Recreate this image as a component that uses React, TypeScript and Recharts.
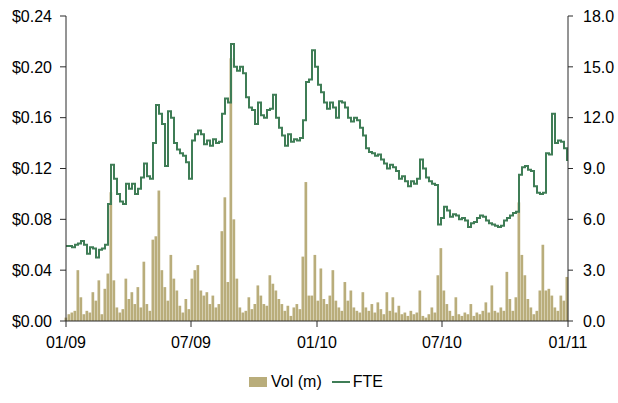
import React from 'react';
import {
  ComposedChart,
  Bar,
  Line,
  XAxis,
  YAxis,
  Legend,
} from 'recharts';

// one sample every 3 trading days, 01/09 -> 01/11
const STEP = 3;

// FTE share price ($)
const price = [
  0.059, 0.059, 0.058, 0.060, 0.061, 0.063, 0.060, 0.053, 0.058, 0.057,
  0.050, 0.056, 0.057, 0.060, 0.092, 0.123, 0.112, 0.100, 0.094, 0.092,
  0.108, 0.104, 0.108, 0.100, 0.104, 0.113, 0.124, 0.114, 0.112, 0.140,
  0.170, 0.163, 0.155, 0.122, 0.165, 0.160, 0.140, 0.135, 0.132, 0.130,
  0.125, 0.112, 0.142, 0.147, 0.150, 0.147, 0.139, 0.142, 0.138, 0.143,
  0.140, 0.141, 0.163, 0.175, 0.172, 0.218, 0.200, 0.197, 0.200, 0.195,
  0.176, 0.168, 0.166, 0.155, 0.172, 0.162, 0.160, 0.166, 0.167, 0.178,
  0.160, 0.152, 0.146, 0.138, 0.147, 0.141, 0.143, 0.142, 0.144, 0.158,
  0.188, 0.190, 0.213, 0.200, 0.186, 0.180, 0.172, 0.167, 0.172, 0.168,
  0.160, 0.173, 0.172, 0.168, 0.160, 0.157, 0.160, 0.158, 0.152, 0.146,
  0.136, 0.133, 0.132, 0.130, 0.131, 0.127, 0.124, 0.120, 0.123, 0.121,
  0.118, 0.112, 0.114, 0.110, 0.106, 0.110, 0.108, 0.112, 0.127, 0.120,
  0.113, 0.110, 0.108, 0.107, 0.076, 0.081, 0.090, 0.087, 0.082, 0.084,
  0.083, 0.080, 0.081, 0.079, 0.074, 0.077, 0.078, 0.081, 0.083, 0.082,
  0.079, 0.077, 0.076, 0.075, 0.074, 0.075, 0.079, 0.081, 0.083, 0.085,
  0.086, 0.115, 0.121, 0.122, 0.119, 0.118, 0.106, 0.101, 0.100, 0.101,
  0.132, 0.131, 0.163, 0.140, 0.142, 0.141, 0.136, 0.126,
];

// volume (millions)
const volume = [
  0.2, 0.4, 0.5, 0.6, 3.0, 1.4, 0.4, 0.6, 0.5, 1.7,
  1.2, 2.4, 0.4, 1.9, 2.8, 7.6, 2.4, 0.8, 0.5, 0.7,
  2.5, 1.3, 1.7, 1.0, 2.0, 0.8, 3.5, 1.0, 0.6, 4.8,
  5.0, 7.7, 3.0, 2.0, 1.2, 3.9, 2.5, 1.8, 0.9, 0.5,
  1.3, 0.7, 2.5, 3.0, 3.3, 1.8, 1.5, 1.7, 1.0, 1.5,
  0.8, 1.0, 5.3, 7.3, 2.3, 15.5, 6.0, 2.5, 0.8, 0.5,
  0.6, 1.4, 0.7, 1.0, 2.1, 1.5, 1.0, 0.9, 2.7, 2.2,
  1.8, 1.3, 1.0, 0.6, 0.9, 0.3, 0.8, 1.0, 0.7, 3.8,
  8.2, 1.5, 1.5, 3.9, 1.2, 3.1, 1.3, 1.0, 1.5, 3.0,
  1.2, 0.8, 0.6, 2.3, 1.2, 1.8, 0.8, 0.6, 0.5, 1.7,
  0.8, 0.6, 1.0, 0.5, 1.1, 0.7, 0.4, 1.7, 0.6, 1.4,
  0.5, 0.9, 0.4, 0.5, 0.3, 0.6, 0.4, 0.5, 1.8, 0.3,
  0.2, 0.4, 0.8, 0.5, 2.7, 4.3, 1.8, 1.0, 0.6, 0.3,
  1.4, 0.4, 0.3, 0.5, 0.4, 1.0, 0.3, 0.5, 0.4, 0.6,
  1.1, 0.5, 2.1, 0.6, 0.5, 0.8, 0.6, 2.9, 1.3, 0.6,
  1.4, 7.0, 3.9, 2.7, 1.3, 0.8, 0.4, 0.6, 1.8, 4.5,
  1.8, 1.9, 1.5, 0.8, 0.6, 1.5, 1.2, 2.6,
];

// x tick positions (trading day) and labels
const xTicks = [0, 125, 251, 376, 502];
const xLabels = ['01/09', '07/09', '01/10', '07/10', '01/11'];

const priceTicks = [0, 0.04, 0.08, 0.12, 0.16, 0.2, 0.24];
const volTicks = [0, 3, 6, 9, 12, 15, 18];

const data = price.map((p, i) => ({ day: i * STEP, price: p, vol: volume[i] }));

const GREEN = '#3f7d56';
const TAN = '#b9ad7b';
const AXIS = '#2b2b2b';
const FONT = 'Liberation Sans, Arial, sans-serif';
const tickStyle = { fill: '#000', fontSize: 16, fontFamily: FONT };

const renderLegend = () => (
  <div
    style={{
      display: 'flex',
      justifyContent: 'center',
      alignItems: 'center',
      fontFamily: FONT,
      fontSize: 16,
      color: '#000',
      paddingLeft: 14,
    }}
  >
    <span style={{ display: 'inline-block', width: 18, height: 10, background: TAN, marginRight: 4 }} />
    <span style={{ marginRight: 10 }}>Vol (m)</span>
    <span style={{ display: 'inline-block', width: 18, height: 2, background: GREEN, marginRight: 3 }} />
    <span>FTE</span>
  </div>
);

export default function App() {
  return (
    <div style={{ position: 'absolute', left: 0, top: 0 }}>
      <ComposedChart
        width={618}
        height={403}
        data={data}
        margin={{ top: 16, right: 0, bottom: 52, left: 0 }}
      >
        <XAxis
          dataKey="day"
          type="number"
          domain={[0, 502]}
          ticks={xTicks}
          tickFormatter={(v: number) => xLabels[xTicks.indexOf(v)] ?? ''}
          tick={tickStyle}
          tickSize={6}
          tickMargin={10}
          height={30}
          axisLine={{ stroke: AXIS }}
          tickLine={{ stroke: AXIS }}
        />
        <YAxis
          yAxisId="price"
          domain={[0, 0.24]}
          ticks={priceTicks}
          tickFormatter={(v: number) => `$${v.toFixed(2)}`}
          tick={tickStyle}
          tickSize={6}
          tickMargin={8}
          width={66}
          axisLine={{ stroke: AXIS }}
          tickLine={{ stroke: AXIS }}
          interval={0}
        />
        <YAxis
          yAxisId="vol"
          orientation="right"
          domain={[0, 18]}
          ticks={volTicks}
          tickFormatter={(v: number) => v.toFixed(1)}
          tick={tickStyle}
          tickSize={5}
          tickMargin={10}
          width={50}
          axisLine={{ stroke: AXIS }}
          tickLine={{ stroke: AXIS }}
          interval={0}
        />
        <Legend
          content={renderLegend}
          layout="horizontal"
          verticalAlign="middle"
          align="center"
          wrapperStyle={{ top: 373, left: 0, width: 618 }}
        />
        <Bar
          yAxisId="vol"
          dataKey="vol"
          name="Vol (m)"
          fill={TAN}
          barSize={3}
          isAnimationActive={false}
        />
        <Line
          yAxisId="price"
          dataKey="price"
          name="FTE"
          type="stepAfter"
          stroke={GREEN}
          strokeWidth={2}
          dot={false}
          activeDot={false}
          isAnimationActive={false}
        />
      </ComposedChart>
    </div>
  );
}
